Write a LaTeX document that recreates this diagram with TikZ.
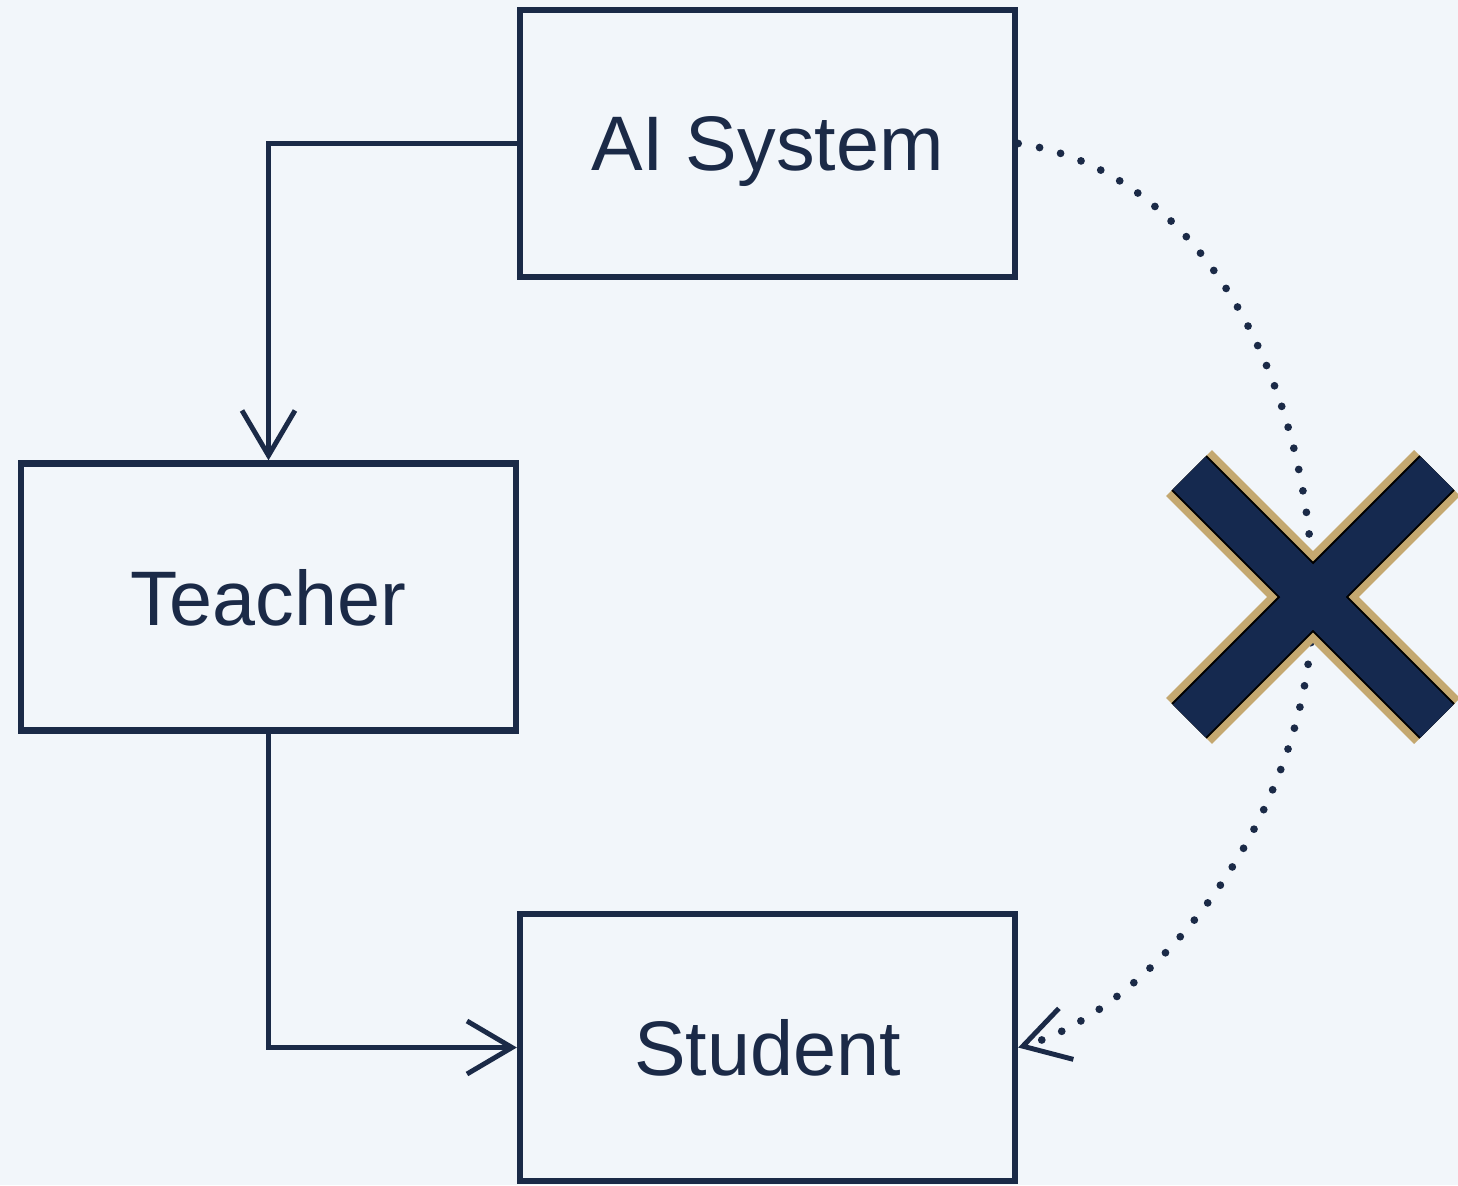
\documentclass[tikz,border=0pt]{standalone}
\usepackage{fontspec}
\setmainfont{Liberation Sans}
\usepackage{tikz}
\usetikzlibrary{arrows.meta}
\usetikzlibrary{calc}

\definecolor{ink}{HTML}{1B2A47}
\definecolor{paper}{HTML}{F2F6FA}
\definecolor{crossblue}{HTML}{15294F}
\definecolor{crossgold}{HTML}{C4A870}

\begin{document}
\begin{tikzpicture}[>={Straight Barb[length=4.5mm,width=5.3mm,line width=1.4pt]},
        box/.style={rectangle,draw=ink,line width=1.8pt,fill=paper,text=ink,
          minimum width=4.95cm,minimum height=2.67cm,inner sep=0,text depth=0pt,
          font=\fontsize{22}{26}\selectfont},
        link/.style={->,draw=ink,line width=1.4pt},
        blocked/.style={->,draw=ink,line width=2.2pt,line cap=round,
          dash pattern=on 0pt off 6.2pt}]
        \useasboundingbox[fill=paper] (0,0) rectangle (14.58,11.85);
        \node[box]  (ai)      at (7.675,10.415) {AI System};
        \node[box]  (teacher) at (2.685,5.88)   {Teacher};
        \node[box]  (student) at (7.675,1.375)  {Student};
        \coordinate (cross) at (13.13,5.88);
        % direct path, crossed out
        \draw[blocked] (ai.east) .. controls (12.0,10.15) and (13.1,8.05) .. (cross)
          .. controls (13.13,3.65) and (11.5,1.75) .. (student.east);
        \foreach \c/\w in {crossgold/0.65cm,black/0.5cm,crossblue/0.46cm}{
          \draw[\c,line width=\w] ($(cross)+(-1.24,1.24)$) -- ($(cross)+(1.24,-1.24)$);
          \draw[\c,line width=\w] ($(cross)+(-1.24,-1.24)$) -- ($(cross)+(1.24,1.24)$);
        }
        % route through the teacher
        \draw[link] (ai.west) -| (teacher.north);
        \draw[link] (teacher.south) |- (student.west);
      \end{tikzpicture}
\end{document}
